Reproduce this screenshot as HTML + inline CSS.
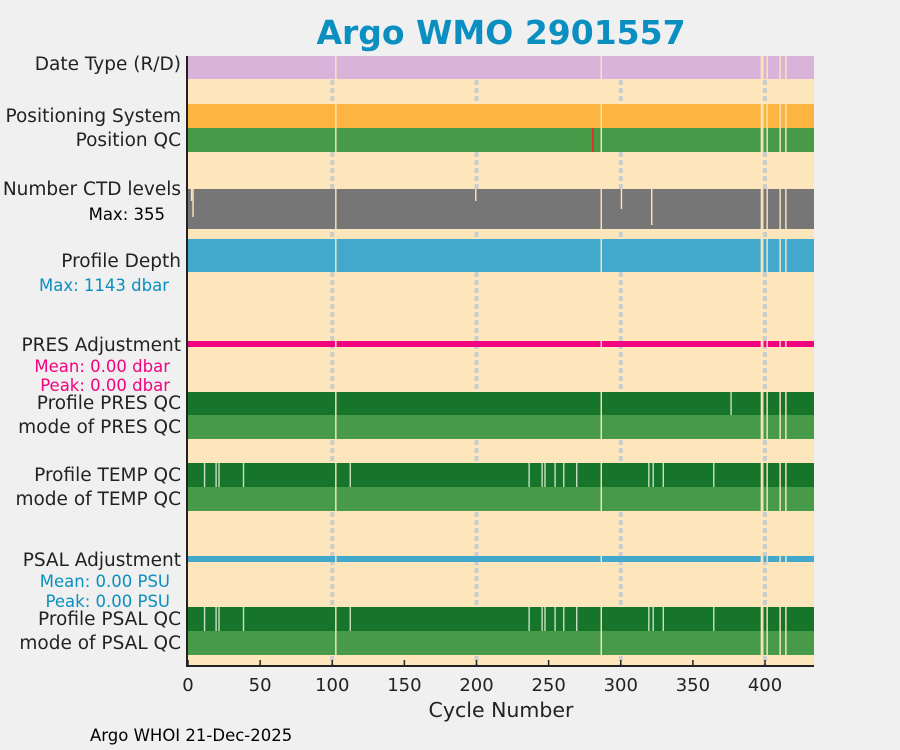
<!DOCTYPE html>
<html><head><meta charset="utf-8"><style>
body{margin:0;background:#f0f0f0;}
svg{display:block;font-family:"DejaVu Sans","Liberation Sans",sans-serif;}
</style></head><body>
<svg id="c" width="900" height="750">
<rect width="900" height="750" fill="#f0f0f0"/>
<text x="501" y="44" text-anchor="middle" font-size="33" font-weight="bold" fill="#0a8fc0">Argo WMO 2901557</text>
<rect x="188" y="56" width="626" height="610" fill="#fde6bb"/>
<g id="marks"></g>
<g font-size="18.5" fill="#222" text-anchor="end">
<text x="181" y="70">Date Type (R/D)</text>
<text x="181" y="122">Positioning System</text>
<text x="181" y="146">Position QC</text>
<text x="181" y="195">Number CTD levels</text>
<text x="165" y="220" font-size="16.5" fill="#000">Max: 355</text>
<text x="181" y="267">Profile Depth</text>
<text x="169" y="291" font-size="16.5" fill="#0a8fc0">Max: 1143 dbar</text>
<text x="181" y="351">PRES Adjustment</text>
<text x="170" y="372" font-size="16.5" fill="#f0047f">Mean: 0.00 dbar</text>
<text x="170" y="391" font-size="16.5" fill="#f0047f">Peak: 0.00 dbar</text>
<text x="181" y="409">Profile PRES QC</text>
<text x="181" y="433">mode of PRES QC</text>
<text x="181" y="481">Profile TEMP QC</text>
<text x="181" y="505">mode of TEMP QC</text>
<text x="181" y="566">PSAL Adjustment</text>
<text x="170" y="587" font-size="16.5" fill="#0a8fc0">Mean: 0.00 PSU</text>
<text x="170" y="607" font-size="16.5" fill="#0a8fc0">Peak: 0.00 PSU</text>
<text x="181" y="625">Profile PSAL QC</text>
<text x="181" y="649">mode of PSAL QC</text>
</g>
<line x1="187" y1="56" x2="187" y2="666" stroke="#222" stroke-width="2"/>
<line x1="186" y1="666" x2="814" y2="666" stroke="#222" stroke-width="2"/>
<g id="ticks" font-size="18" fill="#222" text-anchor="middle"></g>
<text x="501" y="717" text-anchor="middle" font-size="20.5" fill="#222">Cycle Number</text>
<text x="90" y="741" font-size="16.5" fill="#000">Argo WHOI 21-Dec-2025</text>
</svg>
<script>
const maxCycle = 433;
const xTicks = [0,50,100,150,200,250,300,350,400];
const gridCycles = [100,200,300,400];
const missingCycles = [102,286,397,398,401,410,414];
const tempFlagCycles = [11,19,21,38,112,236,245,247,254,260,269,319,322,329,364];
const presFlagCycles = [376];
const posBadCycles = [280];
const ctdDips = [[2,0.3],[3,0.7],[199,0.3],[300,0.5],[321,0.9]];
const NS='http://www.w3.org/2000/svg';
function X(c){return 188 + c*1.4425;}
const g=document.getElementById('marks');
function rect(x,y,w,h,fill,name){const r=document.createElementNS(NS,'rect');r.setAttribute('x',x);r.setAttribute('y',y);r.setAttribute('width',w);r.setAttribute('height',h);r.setAttribute('fill',fill);


g.appendChild(r);return r;}
const x0=X(0), x1=Math.min(814,X(maxCycle+1)), W=x1-x0;
gridCycles.forEach(c=>{const l=document.createElementNS(NS,'line');l.setAttribute('x1',X(c));l.setAttribute('x2',X(c));l.setAttribute('y1',56);l.setAttribute('y2',666);l.setAttribute('stroke','#cccccc');l.setAttribute('stroke-width',4);l.setAttribute('stroke-dasharray','5 3');


g.appendChild(l);});
rect(x0,56,W,23,'#d9b3d9','date-type-bar');
rect(x0,104,W,24,'#fdb541','positioning-system-bar');
rect(x0,128,W,24,'#479a47','position-qc-bar');
posBadCycles.forEach(c=>rect(X(c),128,2,24,'#d9342b','position-qc-bad'));
rect(x0,189,W,40,'#767676','ctd-levels-bar');
ctdDips.forEach(d=>rect(X(d[0]),189,1.4,40*d[1],'#fde6bb','ctd-level-dip'));
rect(x0,239,W,33,'#42a9cc','profile-depth-bar');
rect(x0,341,W,6,'#f0047f','pres-adjustment-line');
rect(x0,392,W,23,'#16752a','pres-qc-bar');
rect(x0,415,W,24,'#479a47','pres-mode-bar');
presFlagCycles.forEach(c=>rect(X(c),392,1.4,23,'#c8e0c0','pres-qc-flag'));
rect(x0,463,W,24,'#16752a','temp-qc-bar');
rect(x0,487,W,24,'#479a47','temp-mode-bar');
rect(x0,556,W,6,'#42a9cc','psal-adjustment-line');
rect(x0,607,W,24,'#16752a','psal-qc-bar');
rect(x0,631,W,24,'#479a47','psal-mode-bar');
tempFlagCycles.forEach(c=>{rect(X(c),463,1.4,24,'#c8e0c0','temp-qc-flag');rect(X(c),607,1.4,24,'#c8e0c0','psal-qc-flag');});
missingCycles.forEach(c=>{[[56,23],[104,48],[189,40],[239,33],[341,6],[392,47],[463,48],[556,6],[607,48]].forEach(b=>rect(X(c),b[0],1.4,b[1],'#fde6bb','missing-cycle-gap'));});
const t=document.getElementById('ticks');
xTicks.forEach(v=>{const l=document.createElementNS(NS,'line');l.setAttribute('x1',X(v));l.setAttribute('x2',X(v));l.setAttribute('y1',660);l.setAttribute('y2',666);l.setAttribute('stroke','#222');l.setAttribute('stroke-width',1.5);


t.appendChild(l);
const s=document.createElementNS(NS,'text');s.setAttribute('x',X(v));s.setAttribute('y',691);s.textContent=v;


t.appendChild(s);});
</script>
</body></html>
